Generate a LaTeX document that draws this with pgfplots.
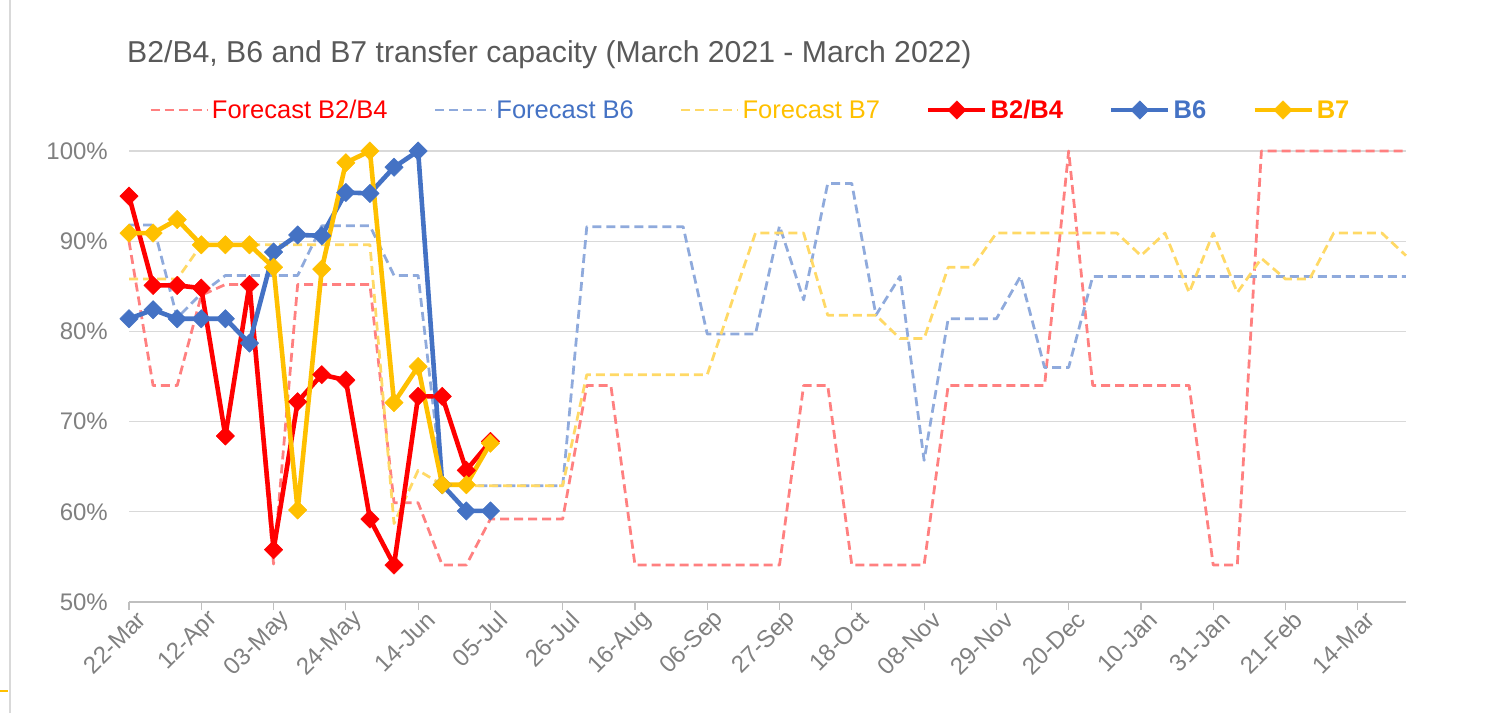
\documentclass[border=0pt]{standalone}
\usepackage{pgfplots}
\pgfplotsset{compat=1.18}
\usepackage{fontspec}
\setmainfont{Liberation Sans}
\definecolor{cRed}{HTML}{FF0000}
\definecolor{cBlue}{HTML}{4472C4}
\definecolor{cGold}{HTML}{FFC000}
\definecolor{cPink}{HTML}{FF8080}
\definecolor{cLBlue}{HTML}{8FAADC}
\definecolor{cLGold}{HTML}{FFD966}
\definecolor{cGrid}{HTML}{D9D9D9}
\definecolor{cAxis}{HTML}{BFBFBF}
\definecolor{cTick}{HTML}{808080}
\definecolor{cTitle}{HTML}{595959}

\pgfplotstableread{
w v
0 90
1 74
2 74
3 84
4 85.2
5 85.2
6 54.2
7 85.2
8 85.2
9 85.2
10 85.2
11 61
12 61
13 54.1
14 54.1
15 59.2
16 59.2
17 59.2
18 59.2
19 74
20 74
21 54.1
22 54.1
23 54.1
24 54.1
25 54.1
26 54.1
27 54.1
28 74
29 74
30 54.1
31 54.1
32 54.1
33 54.1
34 74
35 74
36 74
37 74
38 74
39 100
40 74
41 74
42 74
43 74
44 74
45 54.1
46 54.1
47 100
48 100
49 100
50 100
51 100
52 100
53 100
}\fcBtwo

\pgfplotstableread{
w v
0 91.8
1 91.8
2 81.5
3 84.2
4 86.2
5 86.2
6 86.2
7 86.2
8 91.7
9 91.7
10 91.7
11 86.2
12 86.2
13 63
14 62.9
15 62.9
16 62.9
17 62.9
18 62.9
19 91.6
20 91.6
21 91.6
22 91.6
23 91.6
24 79.7
25 79.7
26 79.7
27 91.7
28 83.5
29 96.4
30 96.4
31 81.8
32 86.1
33 65.7
34 81.4
35 81.4
36 81.4
37 86.1
38 76
39 76
40 86.1
41 86.1
42 86.1
43 86.1
44 86.1
45 86.1
46 86.1
47 86.1
48 86.1
49 86.1
50 86.1
51 86.1
52 86.1
53 86.1
}\fcBsix

\pgfplotstableread{
w v
0 85.8
1 85.8
2 85.8
3 89.6
4 89.6
5 89.6
6 89.6
7 89.6
8 89.6
9 89.6
10 89.6
11 58.7
12 64.6
13 63
14 62.9
15 62.9
16 62.9
17 62.9
18 62.9
19 75.2
20 75.2
21 75.2
22 75.2
23 75.2
24 75.2
25 83.1
26 90.9
27 90.9
28 90.9
29 81.8
30 81.8
31 81.8
32 79.2
33 79.2
34 87.1
35 87.1
36 90.9
37 90.9
38 90.9
39 90.9
40 90.9
41 90.9
42 88.4
43 90.9
44 84.3
45 90.9
46 84.3
47 88.1
48 85.8
49 85.8
50 90.9
51 90.9
52 90.9
53 88.4
}\fcBseven

\pgfplotstableread{
w v
0 95.0
1 85.1
2 85.1
3 84.8
4 68.4
5 85.2
6 55.8
7 72.2
8 75.2
9 74.6
10 59.2
11 54.1
12 72.8
13 72.8
14 64.6
15 67.8
}\acBtwo

\pgfplotstableread{
w v
0 81.4
1 82.4
2 81.4
3 81.4
4 81.4
5 78.7
6 88.8
7 90.7
8 90.6
9 95.4
10 95.3
11 98.2
12 100
13 63
14 60.1
15 60.1
}\acBsix

\pgfplotstableread{
w v
0 90.9
1 90.9
2 92.4
3 89.6
4 89.6
5 89.6
6 87.1
7 60.2
8 86.9
9 98.7
10 100
11 72.1
12 76.1
13 63.0
14 63.0
15 67.6
}\acBseven

\begin{document}
\begin{tikzpicture}
\useasboundingbox (0,0) rectangle (1503pt,713pt);
\draw[color=cGrid, line width=1.2pt] (10pt,0pt) -- (10pt,713pt);
\draw[color=cGold, line width=2pt] (0pt,22pt) -- (8pt,22pt);
\node[anchor=base west, inner sep=0pt, font=\fontsize{30.2}{35}\selectfont, text=cTitle] at (127pt,650pt) {B2/B4, B6 and B7 transfer capacity (March 2021 - March 2022)};
\begin{axis}[
  at={(129pt,111pt)}, anchor=south west, scale only axis,
  width=1277pt, height=451pt,
  xmin=0, xmax=53, ymin=50, ymax=100,
  axis lines*=left,
  y axis line style={draw=none},
  x axis line style={color=cAxis, line width=1.2pt},
  xtick={0,3,...,51},
  xticklabels={22-Mar,12-Apr,03-May,24-May,14-Jun,05-Jul,26-Jul,16-Aug,06-Sep,27-Sep,18-Oct,08-Nov,29-Nov,20-Dec,10-Jan,31-Jan,21-Feb,14-Mar},
  xtick style={color=cAxis, line width=1.2pt},
  tick align=outside,
  major tick length=8pt,
  ytick={50,60,70,80,90,100},
  yticklabels={50\%,60\%,70\%,80\%,90\%,100\%},
  ytick style={draw=none},
  ymajorgrids,
  grid style={color=cGrid, line width=1.2pt},
  tick label style={font=\fontsize{24}{28}\selectfont, text=cTick},
  xticklabel style={rotate=45, anchor=east, inner sep=0pt, xshift=5pt, yshift=-13pt},
  yticklabel style={anchor=east, inner sep=0pt, xshift=-13pt},
  clip=false,
  legend style={at={(0.01566,1.0909)}, anchor=west, draw=none, fill=none,
    legend columns=6, font=\fontsize{25.5}{30}\selectfont,
    /tikz/every even column/.append style={column sep=43pt},
    inner sep=0pt, nodes={inner sep=3pt}},
  legend image code/.code={\draw[mark repeat=2,mark phase=2,#1] plot coordinates {(0pt,0pt) (28.5pt,0pt) (57pt,0pt)};},
  fc/.style={line width=2.75pt, dash pattern=on 9pt off 5pt, line join=round, mark=none},
  ac/.style={line width=4.6pt, line join=round, mark=square*, mark size=6.5pt, mark options={solid, rotate=45, line width=0.5pt}},
]
\addplot[fc, color=cPink] table[x=w, y=v] {\fcBtwo};
\addlegendentry{\textcolor{cRed}{Forecast B2/B4}}
\addplot[fc, color=cLBlue] table[x=w, y=v] {\fcBsix};
\addlegendentry{\textcolor{cBlue}{Forecast B6}}
\addplot[fc, color=cLGold] table[x=w, y=v] {\fcBseven};
\addlegendentry{\textcolor{cGold}{Forecast B7}}
\addplot[ac, color=cRed] table[x=w, y=v] {\acBtwo};
\addlegendentry{\textcolor{cRed}{\bfseries B2/B4}}
\addplot[ac, color=cBlue] table[x=w, y=v] {\acBsix};
\addlegendentry{\textcolor{cBlue}{\bfseries B6}}
\addplot[ac, color=cGold] table[x=w, y=v] {\acBseven};
\addlegendentry{\textcolor{cGold}{\bfseries B7}}
\end{axis}
\end{tikzpicture}
\end{document}
